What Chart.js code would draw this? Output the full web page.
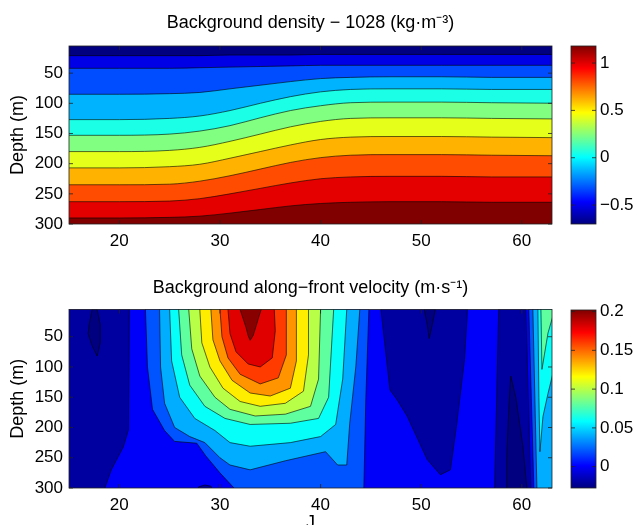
<!DOCTYPE html>
<html>
<head>
<meta charset="utf-8">
<script src="https://cdn.jsdelivr.net/npm/chart.js@4.4.1/dist/chart.umd.min.js"></script>
<style>
  html, body { margin: 0; padding: 0; background: #fff; overflow: hidden; }
  #wrap { position: relative; width: 638px; height: 525px; overflow: hidden; }
  canvas { position: absolute; }
</style>
</head>
<body>
<div id="wrap">
  <canvas id="densityChart" width="560" height="260" style="left:0;top:0"></canvas>
  <canvas id="densityBar" width="78" height="260" style="left:560px;top:0"></canvas>
  <canvas id="velocityChart" width="560" height="290" style="left:0;top:260px"></canvas>
  <canvas id="velocityBar" width="78" height="265" style="left:560px;top:260px"></canvas>
</div>
<script>
//---------- data: top panel, background density - 1028 ----------
const jIndex = [14, 20, 25, 28, 31, 34, 37, 40, 43, 47, 52, 57, 64];
// depth (m) of each density contour along jIndex, shallow -> deep
const rhoLine1  = [21, 21, 21, 21, 20, 20, 20, 19, 19, 19, 19, 19, 19];
const rhoLine2  = [42, 42, 42, 41, 40, 39, 38, 37, 37, 37, 37, 37, 37];
const rhoLine3  = [85, 85, 84, 82, 76, 70, 64, 59, 57, 56, 56, 57, 57];
const rhoLine4  = [127, 127, 125, 121, 112, 100, 89, 81, 77, 76, 76, 77, 77];
const rhoLine5  = [153, 153, 151, 146, 137, 124, 112, 104, 99, 98, 98, 99, 100];
const rhoLine6  = [180, 180, 178, 173, 163, 151, 139, 130, 125, 124, 124, 125, 126];
const rhoLine7  = [207, 207, 205, 201, 191, 180, 169, 160, 156, 155, 155, 156, 157];
const rhoLine8  = [235, 235, 234, 229, 220, 209, 198, 190, 186, 185, 185, 186, 187];
const rhoLine9  = [263, 263, 262, 258, 250, 241, 232, 225, 222, 221, 221, 222, 222];
const rhoLine10 = [290, 290, 289, 287, 282, 276, 270, 266, 264, 263, 263, 264, 264];
const rhoLines = [rhoLine1, rhoLine2, rhoLine3, rhoLine4, rhoLine5, rhoLine6, rhoLine7, rhoLine8, rhoLine9, rhoLine10];
const densityRange = [-0.70, 1.18];
const densityTicks = [-0.5, 0, 0.5, 1];

//---------- data: bottom panel, along-front velocity ----------
const velLevels = [-0.02, 0, 0.02, 0.04, 0.06, 0.08, 0.10, 0.12, 0.14, 0.16, 0.18, 0.20];
const velocityRange = [-0.0275, 0.202];
const velocityTicks = [0, 0.05, 0.1, 0.15, 0.2];
// closed contours as [j, depth] pairs
const velDarkLeft  = [[14,-5],[21.0,-5],[21.0,5],[20.9,204],[20.4,232],[19.2,270],[18.6,298],[18.5,310],[14,310]];
const velDarkMid   = [[46.0,-5],[46.0,5],[46.9,138],[47.6,154],[48.6,181],[50.6,253],[51.9,278],[52.9,270],[53.5,198],[54.3,88],[54.6,5],[54.6,-5]];
const velDarkRight = [[57.7,-5],[57.7,5],[57.3,300],[57.3,310],[61.0,310],[60.9,300],[60.4,5],[60.4,-5]];
const velDarkFloor = [[27.6,310],[27.9,298],[28.5,295],[29.1,297],[29.4,310]];
const velLowLeft   = [[17.3,-5],[17.3,5],[17.0,30],[16.9,45],[17.3,65],[17.8,82],[18.1,60],[18.1,30],[17.8,5],[17.8,-5]];
const velLowMid    = [[50.3,-5],[50.3,5],[50.6,30],[50.8,53],[51.1,30],[51.4,5],[51.4,-5]];
const velLowRight  = [[58.9,115],[59.4,150],[60.1,230],[60.5,300],[60.6,310],[58.5,310],[58.5,250],[58.7,170],[58.9,115]];
const velEdge002 = [[60.7,-5],[60.7,5],[61.2,300],[61.2,310],[64,310],[64,-5]];
const velEdge004 = [[61.1,-5],[61.1,5],[61.5,300],[61.5,310],[64,310],[64,-5]];
const velEdge006 = [[61.6,-5],[61.6,5],[61.7,150],[61.8,240],[62.1,182],[62.6,144],[63.1,110],[64,100],[64,-5]];
const velEdge008 = [[61.9,-5],[61.9,5],[62.0,104],[62.6,44],[63.1,15],[64,5],[64,-5]];
const velJet002 = [[22.6,-5],[22.6,5],[22.8,100],[23.3,170],[24.5,205],[25.5,223],[27.7,226],[28.6,247],[30.0,275],[31.4,300],[31.5,310],[44.3,310],[44.3,300],[44.5,150],[44.8,5],[44.8,-5]];
const velJet004 = [[24.0,-5],[24.0,5],[24.1,100],[24.5,160],[25.5,200],[27,215],[28.5,225],[30,250],[31,262],[33,270],[36.5,255],[40.5,240],[41.7,262],[42.6,262],[42.9,193],[43.5,100],[43.9,5],[43.9,-5]];
const velJet006 = [[25.0,-5],[25.0,5],[25.2,90],[26.0,150],[27.5,185],[29.5,205],[31,225],[33,231],[37,225],[40,215],[41.5,195],[42.2,120],[42.6,5],[42.6,-5]];
const velJet008 = [[25.9,-5],[25.9,5],[26.2,80],[27,130],[28.5,165],[30.5,185],[33,195],[37,193],[39.8,185],[40.8,150],[41.3,5],[41.3,-5]];
const velJet010 = [[26.9,-5],[26.9,5],[27.2,70],[28,115],[29.5,150],[31,170],[33.5,181],[36.5,178],[39,165],[39.8,120],[40.0,5],[40.0,-5]];
const velJet012 = [[28.0,-5],[28.0,5],[28.2,60],[29,100],[30.3,135],[32,157],[34,165],[36.5,160],[38.3,140],[38.8,80],[38.8,5],[38.8,-5]];
const velJet014 = [[29.1,-5],[29.1,5],[29.3,55],[30,90],[31.2,122],[33,143],[35,148],[37,135],[37.6,90],[37.6,5],[37.6,-5]];
const velJet016 = [[30.0,-5],[30.0,5],[30.2,50],[30.8,85],[32,112],[34,128],[35.8,118],[36.6,80],[36.6,5],[36.6,-5]];
const velJet018 = [[30.8,-5],[30.8,5],[31,45],[31.6,75],[32.8,95],[34,100],[35.2,85],[35.5,40],[35.4,5],[35.4,-5]];
const velJet020 = [[31.9,-5],[32.0,5],[32.3,20],[32.6,35],[32.8,48],[33.0,56],[33.3,48],[33.6,32],[33.9,15],[34.1,5],[34.1,-5]];

const depthTicks = [50, 100, 150, 200, 250, 300];
const jTicks = [20, 30, 40, 50, 60];

//---------- styling helpers ----------
const FONT = "'Liberation Sans', Arial, Helvetica, sans-serif";
Chart.defaults.font.family = FONT;
Chart.defaults.color = '#000';

// matlab jet colormap
function jet(t) {
  const c = v => Math.round(255 * Math.min(1, Math.max(0, v)));
  return 'rgb(' + c(1.5 - Math.abs(4 * t - 3)) + ',' + c(1.5 - Math.abs(4 * t - 2)) + ',' + c(1.5 - Math.abs(4 * t - 1)) + ')';
}
const lineColor = 'rgba(0,0,0,0.75)';
const fixTicks = list => scale => { scale.ticks = list.map(v => ({value: v})); };
const minus = v => String(v).replace('-', '\u2212');

// fill the plot area with the lowest band
const areaFill = {
  id: 'areaFill',
  beforeDatasetsDraw(chart, args, opts) {
    const {ctx, chartArea: a} = chart;
    ctx.save();
    ctx.fillStyle = opts.color;
    ctx.fillRect(a.left, a.top, a.width, a.height);
    ctx.restore();
  }
};
// box round the axes + inward ticks like matlab
const boxTicks = {
  id: 'boxTicks',
  afterDatasetsDraw(chart) {
    const {ctx, chartArea: a} = chart;
    const len = 4;
    ctx.save();
    ctx.strokeStyle = '#222';
    ctx.lineWidth = 0.8;
    ctx.strokeRect(a.left, a.top, a.width, a.height);
    ctx.beginPath();
    const xs = chart.scales.x;
    if (xs && xs.options.display !== false) {
      xs.ticks.forEach(t => {
        const px = xs.getPixelForValue(t.value);
        ctx.moveTo(px, a.bottom); ctx.lineTo(px, a.bottom - len);
        ctx.moveTo(px, a.top); ctx.lineTo(px, a.top + len);
      });
    }
    const ys = chart.scales.y;
    ys.ticks.forEach(t => {
      const py = ys.getPixelForValue(t.value);
      ctx.moveTo(a.left, py); ctx.lineTo(a.left + len, py);
      ctx.moveTo(a.right, py); ctx.lineTo(a.right - len, py);
    });
    ctx.stroke();
    ctx.restore();
  }
};

function axesOptions(titleText, titlePad, xHeight, xTitle) {
  return {
    responsive: false,
    animation: false,
    layout: {padding: {left: 0, right: 8, top: 0, bottom: 0}},
    plugins: {
      legend: {display: false},
      tooltip: {enabled: false},
      title: {display: true, fullSize: false, text: titleText, color: '#000', font: {size: 18, weight: 'normal'}, padding: titlePad},
    },
    scales: {
      x: {
        type: 'linear', min: 15, max: 63,
        afterBuildTicks: fixTicks(jTicks),
        afterFit: s => { s.height = xHeight; },
        grid: {display: false, drawTicks: false},
        border: {display: false},
        ticks: {font: {size: 17}, padding: 7, color: '#000'},
        title: xTitle
      },
      y: {
        type: 'linear', reverse: true, min: 5, max: 300,
        afterBuildTicks: fixTicks(depthTicks),
        afterFit: s => { s.width = 69; },
        grid: {display: false, drawTicks: false},
        border: {display: false},
        ticks: {font: {size: 17}, padding: 6, color: '#000'},
        title: {display: true, text: 'Depth (m)', font: {size: 18}, padding: {top: 7, bottom: 0}, color: '#000'}
      }
    }
  };
}

//---------- top panel ----------
const nRho = rhoLines.length + 1;
const rhoSets = rhoLines.map((line, k) => ({
  data: jIndex.map((j, i) => ({x: j, y: line[i]})),
  fill: 'start',
  backgroundColor: jet((k + 1) / (nRho - 1)),
  borderColor: lineColor,
  borderWidth: 0.8,
  pointRadius: 0,
  cubicInterpolationMode: 'monotone'
})).reverse();

const densityOpts = axesOptions('Background density \u2212 1028 (kg\u00b7m\u207b\u00b3)', {top: 12, bottom: 12.4}, 36, {display: false});
densityOpts.plugins.areaFill = {color: jet(0)};
new Chart(document.getElementById('densityChart'), {
  type: 'line',
  data: {datasets: rhoSets},
  options: densityOpts,
  plugins: [areaFill, boxTicks]
});

//---------- bottom panel ----------
// band colour = jet of the band's lower level inside the colour range
const velColor = level => jet(Math.max(0, (level - velocityRange[0]) / (velocityRange[1] - velocityRange[0])));
const LOWEST = velocityRange[0];
function contour(points, level) {
  return {
    data: points.map(p => ({x: p[0], y: p[1]})),
    fill: 'shape',
    backgroundColor: velColor(level),
    borderColor: lineColor,
    borderWidth: 0.8,
    pointRadius: 0,
    tension: 0
  };
}
// listed bottom -> top, reversed so the last one is drawn on top
const velSets = [
  contour(velDarkLeft, velLevels[0]),
  contour(velDarkMid, velLevels[0]),
  contour(velDarkRight, velLevels[0]),
  contour(velDarkFloor, velLevels[0]),
  contour(velLowLeft, LOWEST),
  contour(velLowMid, LOWEST),
  contour(velLowRight, LOWEST),
  contour(velEdge002, velLevels[2]),
  contour(velEdge004, velLevels[3]),
  contour(velEdge006, velLevels[4]),
  contour(velEdge008, velLevels[5]),
  contour(velJet002, velLevels[2]),
  contour(velJet004, velLevels[3]),
  contour(velJet006, velLevels[4]),
  contour(velJet008, velLevels[5]),
  contour(velJet010, velLevels[6]),
  contour(velJet012, velLevels[7]),
  contour(velJet014, velLevels[8]),
  contour(velJet016, velLevels[9]),
  contour(velJet018, velLevels[10]),
  contour(velJet020, velLevels[11])
].reverse();

const velocityOpts = axesOptions('Background along\u2212front velocity (m\u00b7s\u207b\u00b9)', {top: 17.2, bottom: 10.7}, 62,
  {display: true, text: 'J', font: {size: 18}, padding: {top: 0, bottom: 16}, color: '#000'});
velocityOpts.plugins.areaFill = {color: velColor(velLevels[1])};
new Chart(document.getElementById('velocityChart'), {
  type: 'line',
  data: {datasets: velSets},
  options: velocityOpts,
  plugins: [areaFill, boxTicks]
});

//---------- colorbars ----------
function jetGradient(context) {
  const chart = context.chart;
  const a = chart.chartArea;
  if (!a) return 'rgb(0,0,255)';
  const g = chart.ctx.createLinearGradient(0, a.bottom, 0, a.top);
  for (let i = 0; i <= 32; i++) g.addColorStop(i / 32, jet(i / 32));
  return g;
}
function colorbar(id, range, ticks, padTop, padBottom) {
  new Chart(document.getElementById(id), {
    type: 'bar',
    data: {labels: ['c'], datasets: [{data: [[range[0], range[1]]], backgroundColor: jetGradient, borderWidth: 0,
      barPercentage: 1, categoryPercentage: 1}]},
    options: {
      responsive: false,
      animation: false,
      layout: {padding: {left: 11, right: 0, top: padTop, bottom: padBottom}},
      plugins: {legend: {display: false}, tooltip: {enabled: false}},
      scales: {
        x: {display: false},
        y: {
          position: 'right', min: range[0], max: range[1],
          afterBuildTicks: fixTicks(ticks),
          afterFit: s => { s.width = 42; },
          grid: {display: false, drawTicks: false},
          border: {display: false},
          ticks: {font: {size: 17}, padding: 4, color: '#000', callback: v => minus(v)}
        }
      }
    },
    plugins: [boxTicks]
  });
}
colorbar('densityBar', densityRange, densityTicks, 46, 36);
colorbar('velocityBar', velocityRange, velocityTicks, 50, 37);
</script>
</body>
</html>
